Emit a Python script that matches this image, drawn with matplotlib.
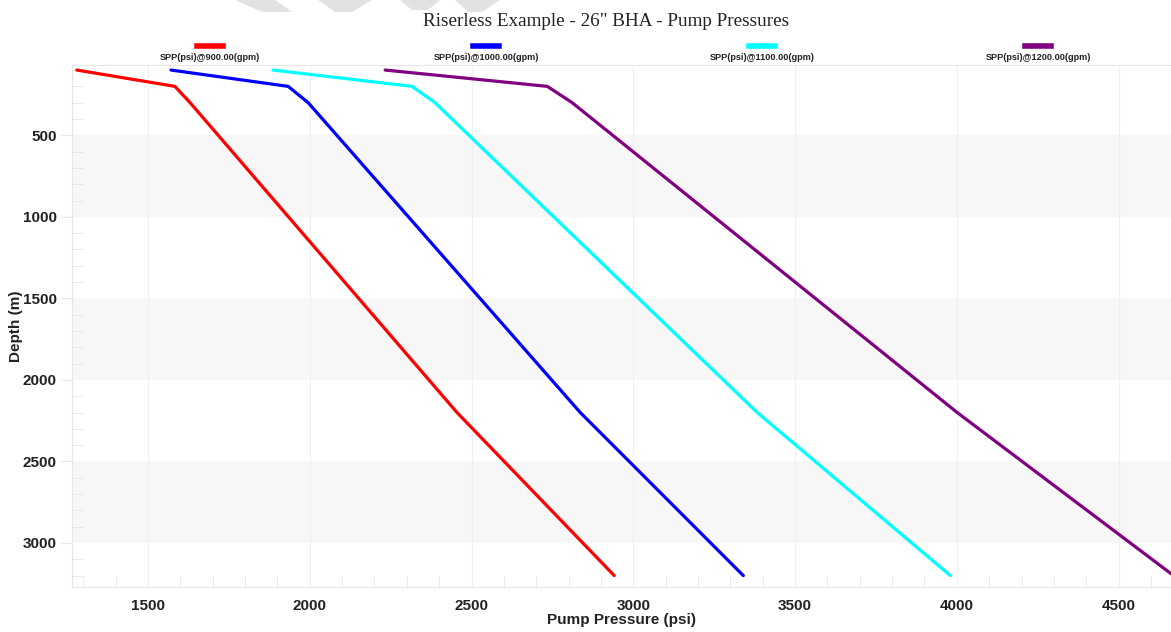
import matplotlib.pyplot as plt
from matplotlib.patches import Polygon

# series data
depth = [100, 200, 300, 2200, 3200]
spp_900 = [1280, 1583, 1630, 2455, 2941]
spp_1000 = [1571, 1933, 1995, 2836, 3340]
spp_1100 = [1886, 2316, 2387, 3383, 3980]
spp_1200 = [2233, 2734, 2811, 4001, 4670]
names = ['SPP(psi)@900.00(gpm)', 'SPP(psi)@1000.00(gpm)',
         'SPP(psi)@1100.00(gpm)', 'SPP(psi)@1200.00(gpm)']
colors = ['#ff0000', '#0000ff', '#00ffff', '#800080']
x_ticks = [1500, 2000, 2500, 3000, 3500, 4000, 4500]
y_ticks = [500, 1000, 1500, 2000, 2500, 3000]
bands = [(500, 1000), (1500, 2000), (2500, 3000)]

W, H = 1171, 632
fig = plt.figure(figsize=(W / 100, H / 100), dpi=100)
ax = fig.add_axes([72 / W, 1 - 587 / H, (W - 72) / W, (587 - 65) / H])

for lo, hi in bands:
    ax.axhspan(lo, hi, color='#f7f7f7', zorder=0, lw=0)

for xs, c in zip([spp_900, spp_1000, spp_1100, spp_1200], colors):
    ax.plot(xs, depth, color=c, lw=2.3, solid_capstyle='round', zorder=3)

ax.set_xlim(1265, 4662)
ax.set_ylim(3270, 69)
ax.set_xticks(x_ticks)
ax.set_yticks(y_ticks)
ax.set_xticks(range(1300, 4700, 100), minor=True)
ax.set_yticks(range(100, 3300, 100), minor=True)
ax.grid(axis='x', which='major', color='#f0f0f0', lw=0.8, zorder=1)
ax.tick_params(which='major', length=8, color='#e6e6e6', labelsize=11,
               labelcolor='#222222', pad=3)
ax.tick_params(axis='x', which='major', length=0, pad=9)
ax.tick_params(which='minor', direction='in', length=8, color='#e6e6e6')
for lab in ax.get_xticklabels() + ax.get_yticklabels():
    lab.set_fontweight('bold')
    lab.set_family('Liberation Sans')

for s in ['left', 'bottom', 'top']:
    ax.spines[s].set_color('#e6e6e6')
ax.spines['right'].set_visible(False)

ax.set_xlabel('Pump Pressure (psi)', fontsize=11, fontweight='bold',
              family='Liberation Sans', color='#222222')
ax.xaxis.set_label_coords(0.5, -0.05)
ax.set_ylabel('Depth (m)', fontsize=11, fontweight='bold',
              family='Liberation Sans', color='#222222')
ax.yaxis.set_label_coords(-0.045, 0.5)

fig.text(606 / W, 1 - 22 / H, 'Riserless Example - 26" BHA - Pump Pressures',
         ha='center', va='center', family='Liberation Serif', fontsize=13.8,
         color='#222222')

# legend entries spread across the top
centers = [210, 486, 762, 1038]
for cx, c, n in zip(centers, colors, names):
    fig.add_artist(plt.Line2D([(cx - 13) / W, (cx + 13) / W], [1 - 46 / H] * 2,
                              color=c, lw=4, transform=fig.transFigure))
    fig.text(cx / W, 1 - 57 / H, n, ha='center', va='center', fontsize=6.6,
             fontweight='bold', family='Liberation Sans', color='#222222')

# faint watermark shapes at the top edge
wm = [[(235, 0), (275, 0), (292, 12), (262, 12)],
      [(318, 0), (372, 0), (352, 12), (335, 12)],
      [(400, 0), (440, 0), (428, 10), (412, 10)],
      [(455, 0), (500, 0), (482, 12), (468, 12)]]
for pts in wm:
    fig.add_artist(Polygon([(x / W, 1 - y / H) for x, y in pts], closed=True,
                           color='#e2e2e2', lw=0, transform=fig.transFigure))

fig.savefig('out.png', dpi=100)
